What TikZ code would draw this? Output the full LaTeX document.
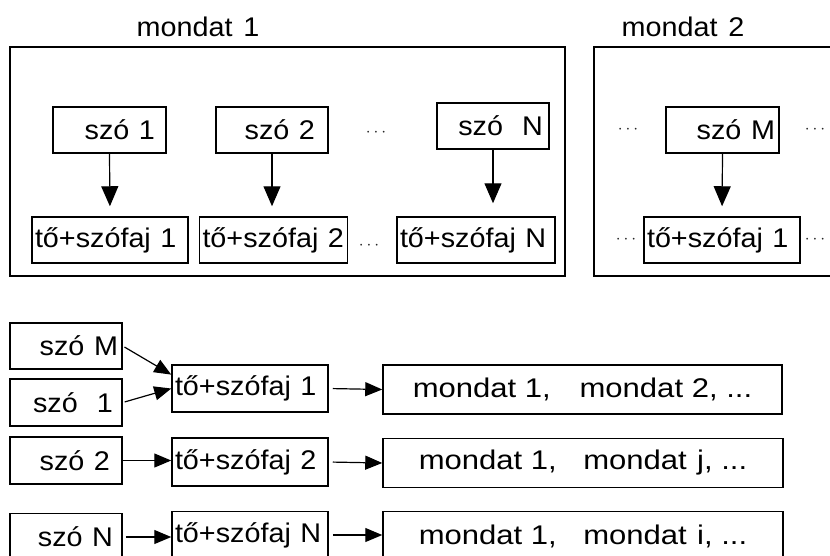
\documentclass[tikz,border=0pt]{standalone}
\usepackage{fontspec}
\setmainfont{Liberation Sans}
\usetikzlibrary{arrows.meta}
\newcommand\hs[1]{\scalebox{1.065}[1]{#1}}
\newcommand\hm[1]{\scalebox{1.15}[1]{#1}}
\begin{document}
\begin{tikzpicture}[x=1pt,y=-1pt, font=\fontsize{27}{30}\selectfont,
  box/.style={draw, line width=1.5pt, minimum height=46pt, inner ysep=0pt},
  rbox/.style={box, align=right},
  lbox/.style={box, align=left, inner xsep=3pt},
  mbox/.style={box, minimum height=49pt, minimum width=399pt},
  outer/.style={draw, line width=1.5pt, minimum height=229pt},
  dots/.style={text=black!85, font=\fontsize{18}{20}\selectfont, inner sep=0pt},
  varr/.style={line width=1.2pt, -{Triangle[length=20pt,width=17pt]}},
  harr/.style={line width=1.2pt, -{Triangle[length=17pt,width=14pt]}}]
\useasboundingbox (0,0) rectangle (830,555);
\clip (0,0) rectangle (830,555);
% top part
\node[outer, minimum width=555pt] (o1) at (287.5,161.5) {};
\node[outer, minimum width=250pt] (o2) at (719,161.5) {};
\node (lbl1) at (198,27) {\hs{mondat\hspace{10pt}1}};
\node (lbl2) at (683,27) {\hs{mondat\hspace{10pt}2}};
\node[rbox, inner xsep=11pt, text width=91pt] (w1) at (109.5,130) {\hs{szó 1}};
\node[rbox, inner xsep=13pt, text width=86pt] (w2) at (272,130) {\hs{szó 2}};
\node[rbox, inner xsep=6pt, text width=100pt] (wN) at (493,126) {\hs{szó~~N}};
\node[rbox, inner xsep=4pt, text width=105pt] (wM) at (722.5,130) {\hs{szó M}};
\node[lbox, text width=150pt] (t1) at (110,240) {\hs{tő+szófaj 1}};
\node[lbox, text width=142pt] (t2) at (273.5,240) {\hs{tő+szófaj 2}};
\node[lbox, text width=152pt] (tN) at (476,240) {\hs{tő+szófaj N}};
\node[lbox, text width=150pt] (tM) at (722,240) {\hs{tő+szófaj 1}};
\node[dots] (d1) at (376,133) {$\cdots$};
\node[dots] (d2) at (369,246) {$\cdots$};
\node[dots] (d3) at (628,130) {$\cdots$};
\node[dots] (d4) at (815,130) {$\cdots$};
\node[dots] (d5) at (626,240) {$\cdots$};
\node[dots] (d6) at (815,240) {$\cdots$};
\draw[varr, shorten >=10pt] (w1.south) -- (t1.north);
\draw[varr, shorten >=10pt] (w2.south) -- (w2.south |- t2.north);
\draw[varr, shorten >=13pt] (wN.south) -- (wN.south |- tN.north);
\draw[varr, shorten >=10pt] (wM.south) -- (tM.north);
% bottom part
\node[rbox, inner xsep=4pt, text width=104pt] (bM) at (66,346) {\hs{szó M}};
\node[rbox, inner xsep=9pt, text width=94pt, minimum height=47pt] (b1) at (66,402.5) {\hs{szó~~1}};
\node[rbox, inner xsep=12pt, text width=88pt, minimum height=47pt] (b2) at (66,460.5) {\hs{szó 2}};
\node[rbox, inner xsep=9pt, text width=94pt, minimum height=47pt] (bN) at (66,537) {\hs{szó N}};
\node[lbox, text width=150pt, minimum height=47pt] (s1) at (250,388.5) {\hs{tő+szófaj 1}};
\node[lbox, text width=150pt, minimum height=48pt] (s2) at (250,462) {\hs{tő+szófaj 2}};
\node[lbox, text width=150pt, minimum height=47pt] (sN) at (250,535) {\hs{tő+szófaj N}};
\node[mbox] (m1) at (582.5,389.5) {\hm{mondat 1,\hspace{25pt}mondat 2, ...}};
\node[mbox, minimum width=400pt] (m2) at (583,463) {\hm{mondat 1,\hspace{23pt}mondat\hspace{9pt}j, ...}};
\node[mbox, minimum width=400pt] (m3) at (583,536) {\hm{mondat 1,\hspace{23pt}mondat\hspace{9pt}i, ...}};
\draw[harr, shorten <=2pt] (bM.east) -- (s1.170);
\draw[harr, shorten <=2pt] (b1.east) -- (s1.west);
\draw[harr] (b2.east) -- (b2.east -| s2.west);
\draw[harr, shorten <=3pt] (bN.east) -- (bN.east -| sN.west);
\draw[harr, shorten <=4pt] (s1.east) -- (m1.west);
\draw[harr, shorten <=4pt] (s2.east) -- (m2.west);
\draw[harr, shorten <=4pt] (sN.east) -- (sN.east -| m3.west);
\end{tikzpicture}
\end{document}
